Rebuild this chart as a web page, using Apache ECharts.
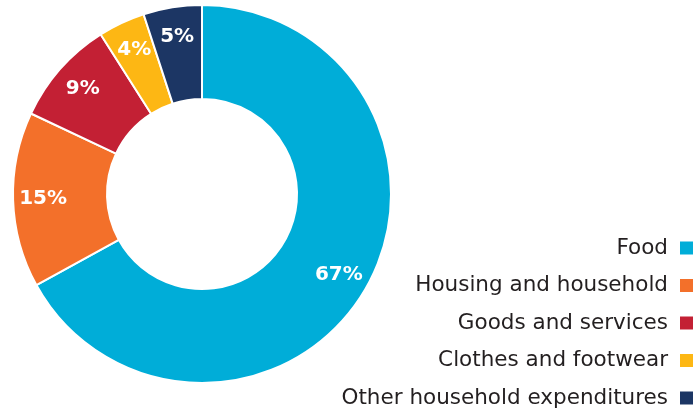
<!DOCTYPE html>
<html>
<head>
<meta charset="utf-8">
<script src="https://cdn.jsdelivr.net/npm/echarts@6/dist/echarts.min.js"></script>
<style>
  html, body { margin: 0; padding: 0; background: #fff; }
  #chart { width: 697px; height: 409px; }
</style>
</head>
<body>
<div id="chart"></div>
<script>
// Household spending shares (percent)
const categories = ['Food', 'Housing and household', 'Goods and services', 'Clothes and footwear', 'Other household expenditures'];
const shares = [67, 15, 9, 4, 5];
const colors = ['#00ADD8', '#F3702A', '#C32034', '#FDB714', '#1C3664'];

const FONT = 'DejaVu Sans';
const center = [202, 194];

const chart = echarts.init(document.getElementById('chart'));
const data = categories.map((name, i) => ({ name, value: shares[i], itemStyle: { color: colors[i] } }));

chart.setOption({
  animation: false,
  legend: {
    orient: 'vertical',
    right: 2,
    top: 237,
    height: 172,
    align: 'right',
    icon: 'rect',
    itemWidth: 15,
    itemHeight: 15,
    itemGap: 15.5,
    padding: 0,
    textStyle: { fontFamily: FONT, fontSize: 21.5, color: '#231F20', lineHeight: 22, padding: [0, 6, 0, 0] },
    data: categories
  },
  series: [
    {
      type: 'pie',
      center: center,
      radius: [95, 189],
      startAngle: 90,
      clockwise: true,
      silent: true,
      itemStyle: { borderColor: '#fff', borderWidth: 2 },
      label: { show: false },
      labelLine: { show: false },
      data: data
    },
    {
      // label ring, slightly outside the band's midline
      type: 'pie',
      center: center,
      radius: [123, 189],
      startAngle: 90,
      clockwise: true,
      silent: true,
      legendHoverLink: false,
      itemStyle: { color: 'transparent', borderWidth: 0 },
      label: {
        show: true,
        position: 'inside',
        formatter: p => p.value + '%',
        fontFamily: FONT,
        fontSize: 20,
        fontWeight: 'bold',
        color: '#fff'
      },
      labelLine: { show: false },
      data: categories.map((name, i) => ({ name: name + ' ', value: shares[i] }))
    }
  ]
});
</script>
</body>
</html>
